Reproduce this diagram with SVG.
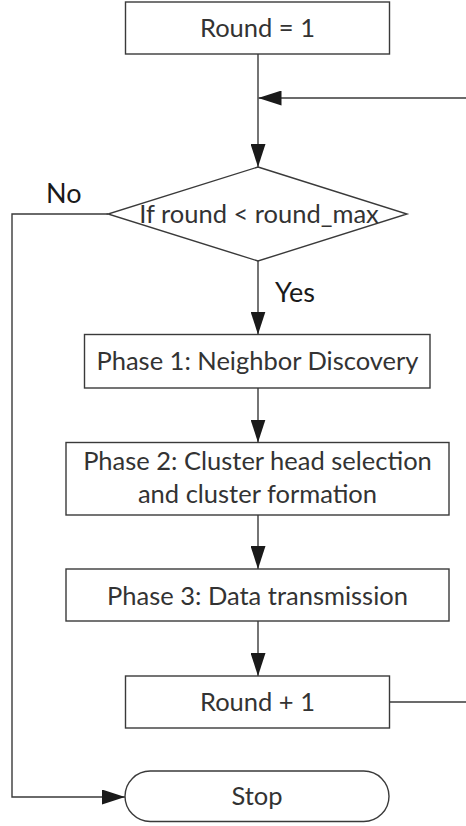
<svg xmlns="http://www.w3.org/2000/svg" width="466" height="826" viewBox="0 0 466 826">
  <style>
    .box { fill: #ffffff; stroke: #3a3a3a; stroke-width: 1.4; }
    .line { fill: none; stroke: #3a3a3a; stroke-width: 1.4; }
    .txt { font-family: Lato, "Open Sans", sans-serif; font-size: 25.5px; fill: #333333; text-anchor: middle; }
    .lbl { font-family: Lato, "Open Sans", sans-serif; font-size: 27px; fill: #1a1a1a; }
  </style>
  <defs>
    <marker id="arrow" viewBox="0 0 23 15" refX="23" refY="7.5" markerWidth="23" markerHeight="15" markerUnits="userSpaceOnUse" orient="auto">
      <path d="M0,0 L23,7.5 L0,15 Z" fill="#1a1a1a"/>
    </marker>
  </defs>
  <rect width="466" height="826" fill="#ffffff"/>

  <g id="connectors">
    <line class="line" x1="258" y1="54" x2="258" y2="167" marker-end="url(#arrow)"/>
    <line class="line" x1="466" y1="98" x2="258.5" y2="98" marker-end="url(#arrow)"/>
    <polyline class="line" points="108,214 12,214 12,797 125,797" marker-end="url(#arrow)"/>
    <line class="line" x1="258" y1="261" x2="258" y2="334.5" marker-end="url(#arrow)"/>
    <line class="line" x1="258" y1="388" x2="258" y2="442.5" marker-end="url(#arrow)"/>
    <line class="line" x1="258" y1="515" x2="258" y2="569" marker-end="url(#arrow)"/>
    <line class="line" x1="258" y1="621" x2="258" y2="676" marker-end="url(#arrow)"/>
    <line class="line" x1="389.5" y1="702" x2="466" y2="702"/>
    <text class="lbl" x="46" y="203">No</text>
    <text class="lbl" x="275" y="302">Yes</text>
  </g>

  <g id="start">
    <rect class="box" x="125.5" y="2" width="264" height="52"/>
    <text class="txt" x="257.5" y="36.5">Round = 1</text>
  </g>

  <g id="decision">
    <polygon class="box" points="258,167 407,214 258,261 108,214"/>
    <text class="txt" x="259" y="223">If round &lt; round_max</text>
  </g>

  <g id="phase1">
    <rect class="box" x="84.5" y="334.5" width="345.5" height="53.5"/>
    <text class="txt" x="257.5" y="370">Phase 1: Neighbor Discovery</text>
  </g>

  <g id="phase2">
    <rect class="box" x="66" y="442.5" width="383" height="72.5"/>
    <text class="txt" x="257.5" y="469.5">Phase 2: Cluster head selection</text>
    <text class="txt" x="257.5" y="503">and cluster formation</text>
  </g>

  <g id="phase3">
    <rect class="box" x="66" y="569" width="383" height="52"/>
    <text class="txt" x="257.5" y="604.5">Phase 3: Data transmission</text>
  </g>

  <g id="increment">
    <rect class="box" x="125.5" y="676" width="264" height="52"/>
    <text class="txt" x="257.5" y="710.5">Round + 1</text>
  </g>

  <g id="stop">
    <rect class="box" x="125" y="771" width="264" height="50.5" rx="25.25" ry="25.25"/>
    <text class="txt" x="257" y="804.5">Stop</text>
  </g>
</svg>
